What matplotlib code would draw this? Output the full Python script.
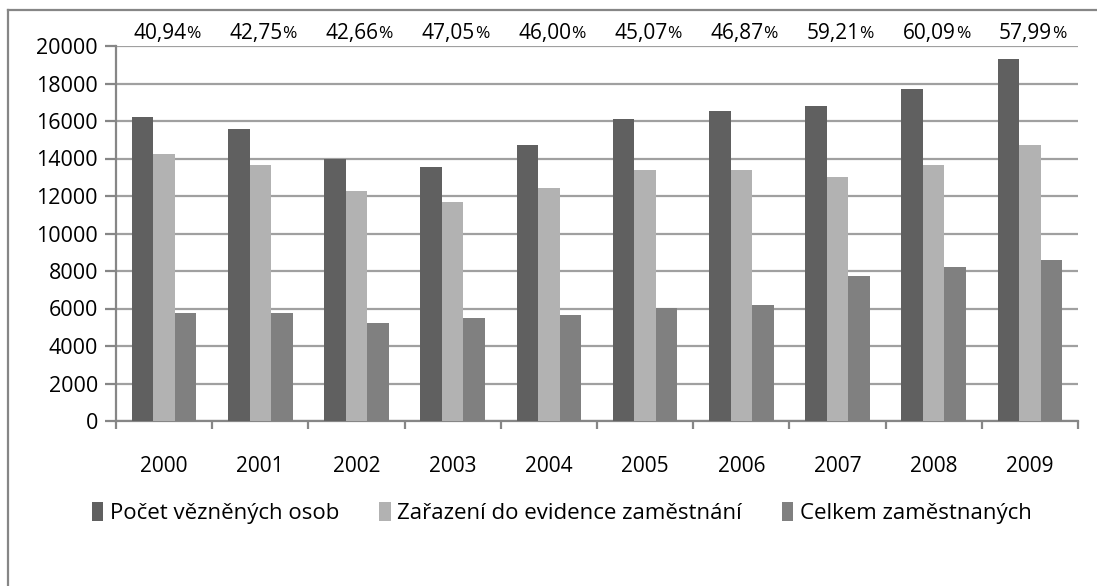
import matplotlib
matplotlib.use("Agg")
import matplotlib.pyplot as plt
from matplotlib import font_manager
from matplotlib.lines import Line2D
from matplotlib.patches import Patch
import numpy as np

years = ["2000", "2001", "2002", "2003", "2004", "2005", "2006", "2007", "2008", "2009"]
vezneni = [16200, 15570, 13970, 13550, 14720, 16100, 16530, 16800, 17700, 19300]
zarazeni = [14240, 13670, 12270, 11680, 12430, 13390, 13390, 13010, 13650, 14720]
zamestnani = [5760, 5760, 5230, 5490, 5650, 6030, 6190, 7730, 8210, 8590]
podily = ["40,94", "42,75", "42,66", "47,05", "46,00", "45,07", "46,87", "59,21", "60,09", "57,99"]
series_names = ["Počet vězněných osob", "Zařazení do evidence zaměstnání", "Celkem zaměstnaných"]
colors = ["#606060", "#b2b2b2", "#808080"]

avail = {f.name for f in font_manager.fontManager.ttflist}
font = "DejaVu Sans"
for cand in ["Liberation Sans Narrow", "Open Sans", "Noto Sans"]:
    if cand in avail:
        font = cand
        break
plt.rcParams["font.family"] = [font, "DejaVu Sans"]

W, H = 1097, 586
fig = plt.figure(figsize=(W / 100, H / 100), dpi=100)
ax = fig.add_axes([116 / W, 1 - 421 / H, 962 / W, 375 / H])

x = np.arange(len(years))
bw = 0.224
for k, (vals, c) in enumerate(zip([vezneni, zarazeni, zamestnani], colors)):
    ax.bar(x + (k - 1) * bw, vals, width=bw, color=c, zorder=3, linewidth=0)

ax.set_xlim(-0.5, len(years) - 0.5)
ax.set_ylim(0, 20000)
ax.set_yticks(np.arange(0, 20001, 2000))
ax.yaxis.grid(True, color="#a0a0a0", linewidth=1.6, zorder=0)
ax.set_axisbelow(True)
for s in ["top", "right"]:
    ax.spines[s].set_visible(False)
for s in ["left", "bottom"]:
    ax.spines[s].set_color("#868686")
    ax.spines[s].set_linewidth(1.6)

ax.set_xticks(x)
ax.set_xticklabels(years, fontsize=15)
ax.tick_params(axis="x", which="major", length=0, pad=25)
ax.set_xticks(np.arange(-0.5, len(years), 1.0), minor=True)
ax.tick_params(axis="x", which="minor", length=6, width=1.6, color="#868686")
ax.tick_params(axis="y", length=8, width=1.6, color="#868686", labelsize=15.5, pad=5)

for i, p in enumerate(podily):
    ax.annotate(p, xy=(i, 20000), xytext=(16, 9), textcoords="offset points",
                ha="right", va="center", fontsize=15)
    ax.annotate("%", xy=(i, 20000), xytext=(15.8, 8.5), textcoords="offset points",
                ha="left", va="center", fontsize=12.5)

# outer chart border (left and top)
fig.add_artist(Line2D([8 / W, 8 / W], [0, 1 - 10 / H], color="#868686", lw=1.6, transform=fig.transFigure))
fig.add_artist(Line2D([8 / W, 1], [1 - 10 / H, 1 - 10 / H], color="#868686", lw=1.6, transform=fig.transFigure))

handles = [Patch(facecolor=c, edgecolor="none") for c in colors]
fig.legend(handles, series_names, loc="center", bbox_to_anchor=(562 / W, 1 - 513 / H), ncol=3,
           frameon=False, fontsize=16, handlelength=0.5, handleheight=0.9, handletextpad=0.3,
           columnspacing=1.8)

fig.savefig("out.png", dpi=100, facecolor="white")
